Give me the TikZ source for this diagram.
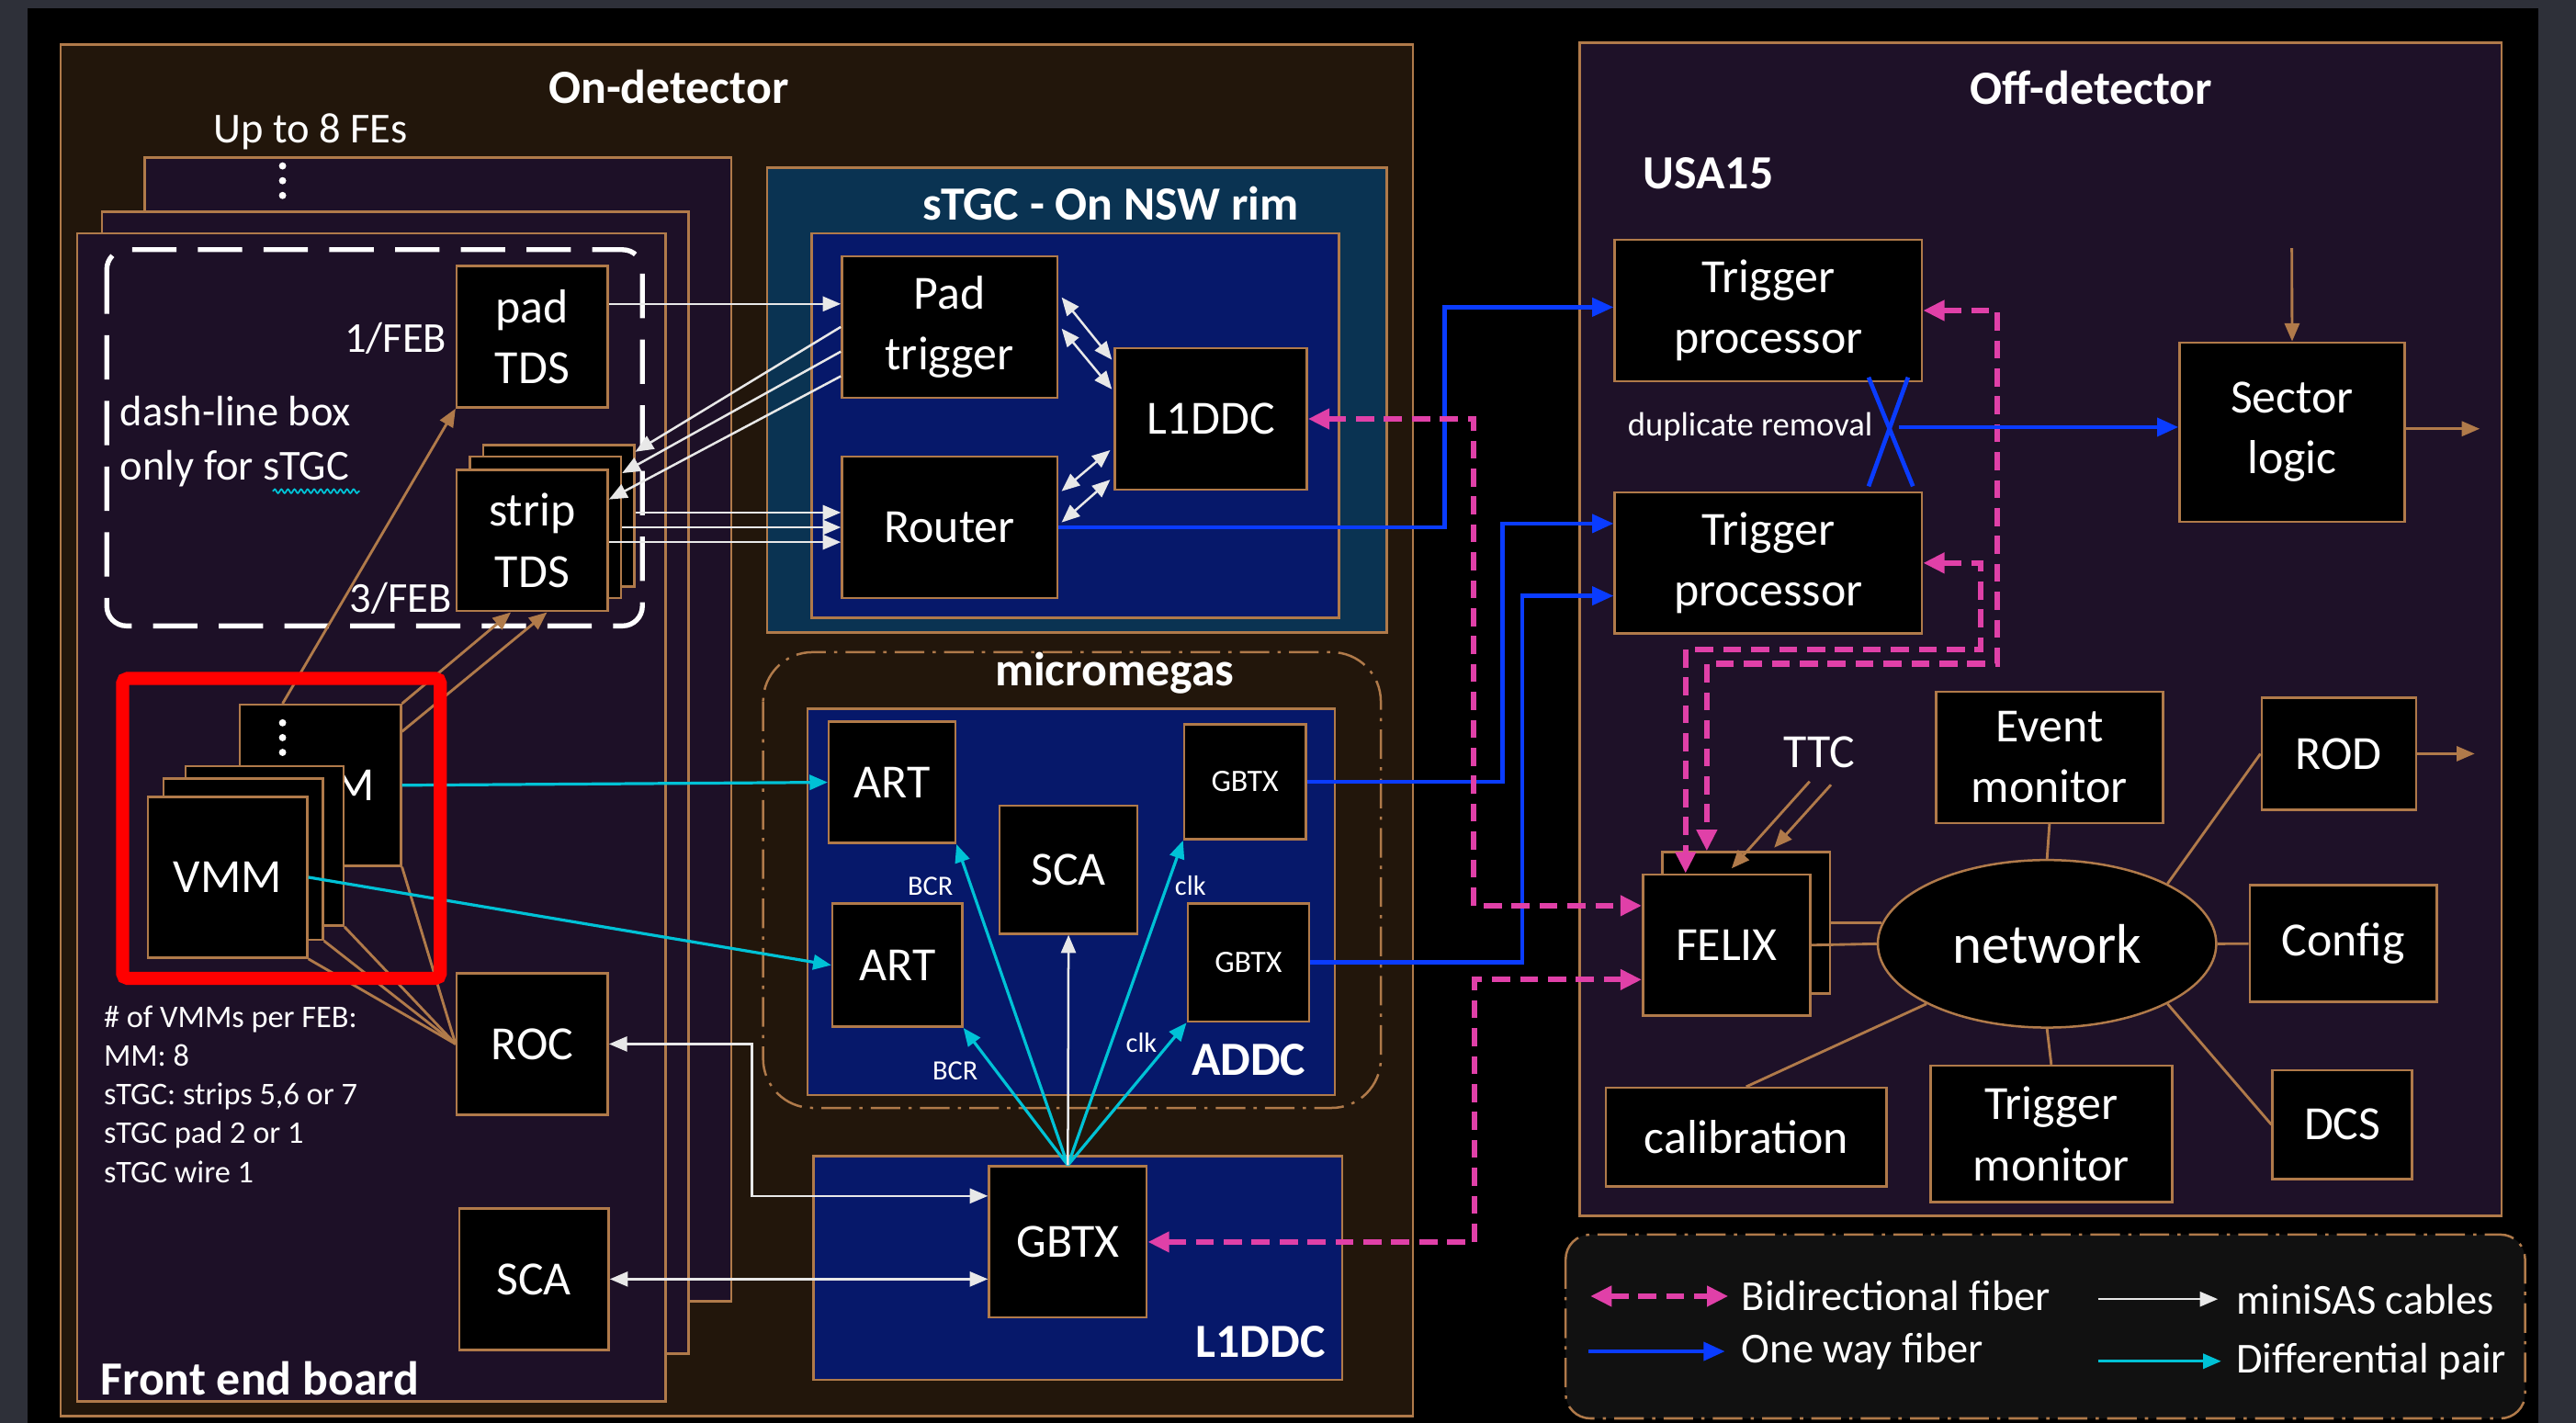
\documentclass[tikz,border=0pt]{standalone}
\usepackage{fontspec}
\setmainfont{Carlito}
\usetikzlibrary{arrows.meta,calc,shapes.geometric,decorations.pathmorphing}

\definecolor{cFrame}{HTML}{2E3039}
\definecolor{cEdge}{HTML}{B07A4A}
\definecolor{cOnDet}{HTML}{22160B}
\definecolor{cBoard}{HTML}{1D1027}
\definecolor{cOffDet}{HTML}{1E1128}
\definecolor{cRim}{HTML}{0A3352}
\definecolor{cNavy}{HTML}{06186A}
\definecolor{cPink}{HTML}{E040A8}
\definecolor{cBlue}{HTML}{0A3CFF}
\definecolor{cDiff}{HTML}{00C2D6}
\definecolor{cWire}{HTML}{E8E8E8}
\definecolor{cLeg}{HTML}{111111}
\definecolor{cRed}{HTML}{FF0000}

\newcommand\fBox{\fontsize{29}{37}\selectfont}
\newcommand\fGbt{\fontsize{19}{22}\selectfont}
\newcommand\fNet{\fontsize{34}{40}\selectfont}
\newcommand\fTitle{\fontsize{29}{34}\selectfont\bfseries}
\newcommand\fNote{\fontsize{26}{34}\selectfont}
\newcommand\fTiny{\fontsize{19.2}{23.6}\selectfont}
\newcommand\fDup{\fontsize{20.5}{24}\selectfont}
\newcommand\fLab{\fontsize{17}{20}\selectfont}

\begin{document}
\begin{tikzpicture}[x=1pt, y=-1pt,
  blk/.style={draw=cEdge, line width=1.4pt, fill=black, text=white, align=center, inner sep=0pt, font=\fBox},
  area/.style={draw=cEdge, line width=1.4pt},
  lbl/.style={text=white, inner sep=0pt},
  ttl/.style={text=white, inner sep=0pt, font=\fTitle},
  sas/.style={draw=cWire, line width=1.4pt, -{Triangle[length=11pt,width=9pt]}},
  sas2/.style={draw=cWire, line width=1.4pt, {Triangle[length=11pt,width=9pt]}-{Triangle[length=11pt,width=9pt]}},
  diff/.style={draw=cDiff, line width=1.8pt, -{Triangle[length=11pt,width=9pt]}},
  oneway/.style={draw=cBlue, line width=2.6pt, -{Triangle[length=13pt,width=11pt]}},
  xwire/.style={draw=cBlue, line width=2.6pt},
  bidir/.style={draw=cPink, line width=3.4pt, dash pattern=on 11pt off 6pt, {Triangle[length=13pt,width=12pt]}-{Triangle[length=13pt,width=12pt]}},
  feb/.style={draw=cEdge, line width=1.6pt, -{Triangle[length=11pt,width=9pt]}},
  link/.style={draw=cEdge, line width=1.6pt},
  dashdot/.style={draw=cEdge, line width=1.4pt, dash pattern=on 18pt off 5pt on 2pt off 5pt}
]
\useasboundingbox[fill=cFrame] (0,0) rectangle (1568,866);
\fill[black] (17,5) rectangle (1545,866);

% on-detector side
\draw[area, fill=cOnDet] (37,27) rectangle (860,862);
\node[ttl] (ondet) at (407,53) {On-detector};
\node[lbl, font=\fNote] (upto) at (189,80) {Up to 8 FEs};
\draw[area, fill=cBoard] (88,96) rectangle (445,792);
\draw[area, fill=cBoard] (62,129) rectangle (419,824);
\draw[area, fill=cBoard] (47,142) rectangle (405,853);
\foreach \d in {101,110,119} \fill[white] (172,\d) circle (2.2pt);
\draw[white, line width=3pt, dash pattern=on 27pt off 13pt, rounded corners=12pt] (65,152) rectangle (391,381);
\node[lbl, font=\fNote, anchor=west] (dashnote) at (73,250) {dash-line box};
\node[lbl, font=\fNote, anchor=west] (dashnote2) at (73,285) {only for sTGC};
\draw[cDiff, line width=1pt, decorate, decoration={snake, amplitude=1.2pt, segment length=4pt}] (166,299) -- (219,299);
\node[lbl, font=\fNote, anchor=east] (onefeb) at (272,206) {1/FEB};
\node[lbl, font=\fNote, anchor=east] (threefeb) at (275,364) {3/FEB};

\node[blk, minimum width=92, minimum height=86] (padtds) at (324,205) {pad\\TDS};
\node[blk, minimum width=92, minimum height=86] (stripc) at (340,314) {};
\node[blk, minimum width=92, minimum height=86] (stripb) at (332,321) {};
\node[blk, minimum width=92, minimum height=86] (stripa) at (324,329) {strip\\TDS};

\node[blk, minimum width=98, minimum height=98] (vmmd) at (195,478) {VMM};
\foreach \d in {440,449,458} \fill[white] (172,\d) circle (2.2pt);
\node[blk, minimum width=96, minimum height=97] (vmmc) at (161,515) {};
\node[blk, minimum width=97, minimum height=98] (vmmb) at (148,523) {};
\node[blk, minimum width=97, minimum height=98] (vmma) at (138.5,534) {VMM};

\node[blk, minimum width=92, minimum height=86] (roc) at (324,635.5) {ROC};
\node[blk, minimum width=91, minimum height=86] (scaf) at (325,778.6) {SCA};
\node[lbl, font=\fTiny, anchor=north west, align=left] (vmmnote) at (63,612) {\# of VMMs per FEB:\\MM: 8\\sTGC: strips 5,6 or 7\\sTGC pad 2 or 1\\sTGC wire 1};
\node[ttl, anchor=west] (febttl) at (61,839) {Front end board};

% sTGC rim
\draw[area, fill=cRim] (467,102) rectangle (844,385);
\node[ttl] (rimttl) at (676,124) {sTGC - On NSW rim};
\draw[area, fill=cNavy] (494,142) rectangle (815,376);
\node[blk, minimum width=131, minimum height=86] (padtrig) at (578,199) {Pad\\trigger};
\node[blk, minimum width=117, minimum height=86] (l1ddc) at (737,255) {L1DDC};
\node[blk, minimum width=131, minimum height=86] (router) at (578,321) {Router};

% micromegas
\draw[dashdot, rounded corners=30pt] (464.5,397) rectangle (840.5,674.4);
\node[ttl] (mmttl) at (678.5,410) {micromegas};
\draw[area, fill=cNavy] (491.6,431.4) rectangle (812.6,666.7);
\node[blk, minimum width=77, minimum height=74] (art1) at (543,476.2) {ART};
\node[blk, minimum width=79, minimum height=75] (art2) at (546.2,587.5) {ART};
\node[blk, minimum width=84, minimum height=78] (scam) at (650.4,529.4) {SCA};
\node[blk, minimum width=74, minimum height=70, font=\fGbt] (gbtxa) at (757.8,475.9) {GBTX};
\node[blk, minimum width=74, minimum height=72, font=\fGbt] (gbtxb) at (759.9,585.9) {GBTX};
\node[ttl, anchor=east] (addcttl) at (795,645) {ADDC};

\draw[area, fill=cNavy] (495.3,703.8) rectangle (817,840);
\node[blk, minimum width=96, minimum height=92] (gbtxl) at (650,756) {GBTX};
\node[ttl, anchor=east] (l1ttl) at (807,817) {L1DDC};

% off-detector side
\draw[area, fill=cOffDet] (961.5,26) rectangle (1522.8,740);
\node[ttl] (offttl) at (1273,53.5) {Off-detector};
\node[ttl, anchor=west] (usattl) at (1000,105.7) {USA15};
\node[blk, minimum width=187, minimum height=86] (tp1) at (1076.4,189) {Trigger\\processor};
\node[blk, minimum width=187, minimum height=86] (tp2) at (1076.4,342.7) {Trigger\\processor};
\node[blk, minimum width=137, minimum height=109] (sector) at (1395.2,263) {Sector\\logic};
\node[lbl, font=\fDup, anchor=east] (duprm) at (1140,260) {duplicate removal};
\node[blk, minimum width=102, minimum height=86] (felixb) at (1062.9,561.7) {};
\node[blk, minimum width=102, minimum height=86] (felixf) at (1051,575.3) {FELIX};
\node[lbl, font=\fBox] (ttc) at (1107.5,458) {TTC};
\node[blk, minimum width=138, minimum height=80] (evm) at (1247.5,461) {Event\\monitor};
\node[blk, minimum width=94, minimum height=68] (rod) at (1423.6,458.8) {ROD};
\node[blk, ellipse, minimum width=206, minimum height=102, font=\fNet] (net) at (1246,574.5) {network};
\node[blk, minimum width=114, minimum height=71] (config) at (1426.4,574.4) {Config};
\node[blk, minimum width=85, minimum height=66] (dcs) at (1425.8,684.6) {DCS};
\node[blk, minimum width=147, minimum height=83] (trgm) at (1248.6,690.2) {Trigger\\monitor};
\node[blk, minimum width=171, minimum height=60] (calib) at (1062.9,692.2) {calibration};

% legend
\draw[dashdot, rounded corners=15pt, fill=cLeg] (953,751.5) rectangle (1537,863.4);
\node[lbl, font=\fNote, anchor=west] (lgbi) at (1060,789) {Bidirectional fiber};
\node[lbl, font=\fNote, anchor=west] (lgone) at (1060,822.6) {One way fiber};
\node[lbl, font=\fNote, anchor=west] (lgsas) at (1361,790.8) {miniSAS cables};
\node[lbl, font=\fNote, anchor=west] (lgdiff) at (1361,828.6) {Differential pair};
\draw[bidir] ($(lgbi.west)+(-92,0)$) -- ($(lgbi.west)+(-8,0)$);
\draw[oneway] ($(lgone.west)+(-93,0)$) -- ($(lgone.west)+(-10,0)$);
\draw[sas] ($(lgsas.west)+(-84,0)$) -- ($(lgsas.west)+(-11,0)$);
\draw[diff] ($(lgdiff.west)+(-84,0)$) -- ($(lgdiff.west)+(-9,0)$);

% sTGC trigger path
\draw[sas] ($(padtds.east)+(0,-20)$) -- ($(padtrig.west)+(0,-14)$);
\draw[sas] (padtrig.west) -- ($(stripc.east)+(0,-39)$);
\draw[sas] ($(padtrig.west)+(0,15)$) -- ($(stripb.east)+(0,-33)$);
\draw[sas] ($(padtrig.west)+(0,30)$) -- ($(stripa.east)+(0,-25)$);
\draw[sas] ($(stripc.east)+(0,-2)$) -- ($(router.west)+(0,-9)$);
\draw[sas] (stripb.east) -- (router.west);
\draw[sas] ($(stripa.east)+(0,1)$) -- ($(router.west)+(0,9)$);
\draw[sas2] ($(padtrig.east)+(2,-18)$) -- ($(l1ddc.west)+(-1,-36)$);
\draw[sas2] ($(padtrig.east)+(2,1)$) -- ($(l1ddc.west)+(-1,-18)$);
\draw[sas2] ($(router.east)+(2,-22)$) -- ($(l1ddc.west)+(-2,19)$);
\draw[sas2] ($(router.east)+(2,-3)$) -- ($(l1ddc.west)+(-2,37)$);

% front end board
\draw[feb] ($(vmmd.north)+(-23,0)$) -- (padtds.south west);
\draw[feb] (vmmd.north east) -- ($(stripa.south)+(-13,0)$);
\draw[feb] ($(vmmd.north east)+(0,17)$) -- ($(stripa.south)+(9,0)$);
\foreach \v in {vmmd,vmmc,vmmb,vmma} \draw[link] (\v.south east) -- (roc.west);
\draw[diff] (vmmd.east) -- (art1.west);
\draw[diff] (vmma.east) -- (art2.west);
\draw[sas2] (roc.east) -- ++(87,0) |- ($(gbtxl.west)+(0,-28)$);
\draw[sas2] (scaf.east) -- (scaf.east -| gbtxl.west);

% ADDC fan-out
\draw[diff] (gbtxl.north) -- node[lbl, font=\fLab, pos=0.87, left=10pt] {BCR} (art1.south east);
\draw[diff] (gbtxl.north) -- node[lbl, font=\fLab, pos=0.69, left=10pt] {BCR} (art2.south east);
\draw[diff] (gbtxl.north) -- node[lbl, font=\fLab, pos=0.86, right=4pt] {clk} (gbtxa.south west);
\draw[diff] (gbtxl.north) -- node[lbl, font=\fLab, pos=0.86, left=7pt] {clk} (gbtxb.south west);
\draw[sas] (gbtxl.north) -- (scam.south);

% fibers
\draw[oneway] (router.east) -- ++(235,0) |- ($(tp1.west)+(0,-2)$);
\draw[oneway] (gbtxa.east) -- ++(119,0) |- ($(tp2.west)+(0,-24)$);
\draw[oneway] (gbtxb.east) -- ++(129,0) |- ($(tp2.west)+(0,20)$);
\draw[bidir] (l1ddc.east) -- ++(101,0) |- ($(felixf.west)+(0,-24)$);
\draw[bidir] (gbtxl.east) -- ++(199,0) |- ($(felixf.west)+(0,21)$);
\draw[bidir] (tp1.east) -- ++(45,0) -- ++(0,215) -| ($(felixb.north)+(-24,0)$);
\draw[bidir] (tp2.east) -- ++(35,0) -- ++(0,52.5) -| ($(felixf.north)+(-25,0)$);

% trigger processors
\draw[xwire] ($(tp1.south)+(61,-3)$) -- ($(tp2.north)+(88,-3)$);
\draw[xwire] ($(tp1.south)+(85,-3)$) -- ($(tp2.north)+(61,-3)$);
\coordinate (dupx) at (1156,260);
\draw[oneway] (dupx) -- (dupx -| sector.west);
\coordinate (slin) at (1395,151);
\draw[feb] (slin) -- (sector.north);
\draw[feb] ($(sector.east)+(0,-2)$) -- ++(45,0);
\draw[feb] (rod.east) -- ++(35,0);
\draw[feb] ($(ttc.south)+(-6,8)$) -- ($(felixf.north)+(3,-3)$);
\draw[feb] ($(ttc.south)+(7,10)$) -- ($(felixb.north)+(17,-2)$);

% network
\draw[link] (felixb.east) -- ($(felixb.east -| net.west)+(3,0)$);
\draw[link] (felixf.east) -- (net.west);
\draw[link] (evm.south) -- (net.north);
\draw[link] (trgm.north) -- (net.south);
\draw[link] (config.west) -- (net.east);
\draw[link] (rod.west) -- (net.north east);
\draw[link] (dcs.west) -- (net.south east);
\draw[link] (calib.north) -- (net.south west);

% highlight
\draw[cRed, line width=8pt, rounded corners=3pt] (74.6,413) rectangle (268,595.5);
\end{tikzpicture}
\end{document}
